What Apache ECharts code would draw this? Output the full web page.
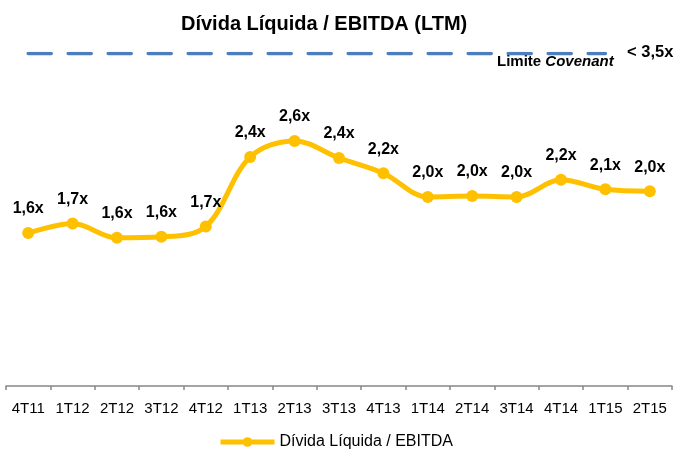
<!DOCTYPE html>
<html lang="pt">
<head>
    <meta charset="UTF-8">
    <title>Dívida Líquida / EBITDA (LTM)</title>
    <style>
        html, body { margin: 0; padding: 0; background: #fff; }
        #chart { width: 680px; height: 452px; }
    </style>
</head>
<body>
<div id="chart"></div>

<script src="https://cdn.jsdelivr.net/npm/echarts@6/dist/echarts.min.js"></script>
<script>
    // trimestres
    var quarters = ['4T11', '1T12', '2T12', '3T12', '4T12', '1T13', '2T13', '3T13', '4T13', '1T14', '2T14', '3T14', '4T14', '1T15', '2T15'];
    // divida liquida / ebitda
    var leverage = [1.61, 1.71, 1.56, 1.57, 1.68, 2.41, 2.58, 2.40, 2.24, 1.99, 2.00, 1.99, 2.17, 2.07, 2.05];
    // limite covenant (linha tracejada)
    var covenant = [3.5, 3.5, 3.5, 3.5, 3.5, 3.5, 3.5, 3.5, 3.5, 3.5, 3.5, 3.5, 3.5, 3.5, null];

    var font = 'Arial, "Liberation Sans", sans-serif';
    var myChart = echarts.init(document.getElementById('chart'));

    var option = {
        animation: false,
        textStyle: { fontFamily: font },
        title: {
            text: 'Dívida Líquida / EBITDA (LTM)',
            left: 176,
            top: 9,
            textStyle: { fontSize: 20, fontWeight: 'bold', color: '#000', fontFamily: font }
        },
        legend: {
            data: ['Dívida Líquida / EBITDA'],
            top: 429,
            left: 213,
            itemWidth: 54,
            itemHeight: 12,
            itemGap: 4,
            lineStyle: { width: 5 },
            textStyle: { fontSize: 16, color: '#000', fontFamily: font }
        },
        grid: { left: 6, right: 8, top: 53.5, bottom: 66 },
        xAxis: {
            type: 'category',
            data: quarters,
            boundaryGap: true,
            axisLine: { lineStyle: { color: '#868686', width: 1.5 } },
            axisTick: { show: true, length: 4, lineStyle: { color: '#868686', width: 1.5 } },
            axisLabel: { color: '#000', fontSize: 15, margin: 15, fontFamily: font, interval: 0 }
        },
        yAxis: {
            type: 'value',
            min: 0,
            max: 3.5,
            show: false,
            splitLine: { show: false }
        },
        graphic: [
            {
                type: 'text',
                left: 497,
                top: 54,
                style: {
                    text: '{a|Limite }{b|Covenant}',
                    rich: {
                        a: { fontSize: 15, fontWeight: 'bold', fill: '#000', fontFamily: font },
                        b: { fontSize: 15, fontWeight: 'bold', fontStyle: 'italic', fill: '#000', fontFamily: font }
                    }
                }
            },
            {
                type: 'text',
                left: 627,
                top: 44,
                style: { text: '< 3,5x', fontSize: 16.5, fontWeight: 'bold', fill: '#000', fontFamily: font }
            }
        ],
        series: [
            {
                name: 'Limite Covenant',
                type: 'line',
                data: covenant,
                symbol: 'none',
                silent: true,
                lineStyle: { color: '#4A7EBF', width: 3.5, type: [23, 17], cap: 'round' },
                z: 1
            },
            {
                name: 'Dívida Líquida / EBITDA',
                type: 'line',
                data: leverage,
                smooth: 0.35,
                symbol: 'circle',
                symbolSize: 12,
                itemStyle: { color: '#FFC000' },
                lineStyle: { color: '#FFC000', width: 5 },
                label: {
                    show: true,
                    position: 'top',
                    distance: 10,
                    color: '#000',
                    fontSize: 16,
                    fontWeight: 'bold',
                    fontFamily: font,
                    formatter: function (p) {
                        return p.value.toFixed(1).replace('.', ',') + 'x';
                    }
                },
                z: 3
            }
        ]
    };
    myChart.setOption(option);
</script>
</body>
</html>
